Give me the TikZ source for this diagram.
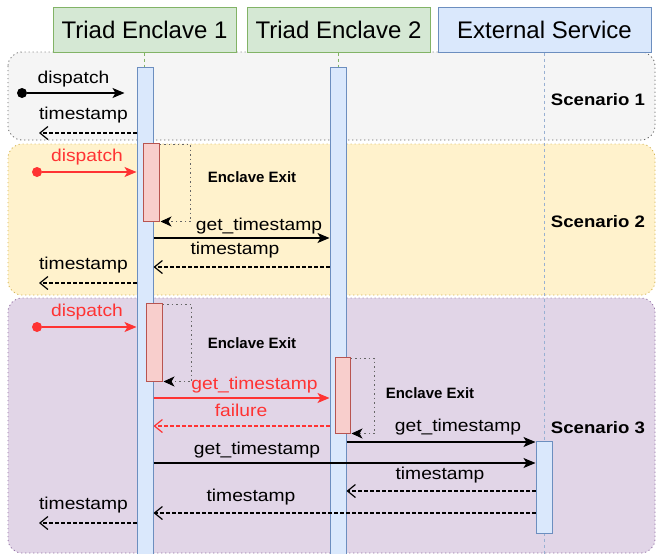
\documentclass[tikz,border=0pt]{standalone}
\usepackage{fontspec}
\setmainfont{Liberation Sans}
\newfontfamily\widefont[FakeStretch=1.12]{Liberation Sans}
\usetikzlibrary{arrows.meta}
\definecolor{greenfill}{HTML}{D5E8D4}
\definecolor{greendraw}{HTML}{82B366}
\definecolor{bluefill}{HTML}{DAE8FC}
\definecolor{bluedraw}{HTML}{6C8EBF}
\definecolor{redfill}{HTML}{F8CECC}
\definecolor{reddraw}{HTML}{B85450}
\definecolor{redtext}{HTML}{FF3333}
\definecolor{grayfill}{HTML}{F5F5F5}
\definecolor{graydraw}{HTML}{666666}
\definecolor{yellowfill}{HTML}{FFF2CC}
\definecolor{yellowdraw}{HTML}{D6B656}
\definecolor{purplefill}{HTML}{E1D5E7}
\definecolor{purpledraw}{HTML}{9673A6}

\begin{document}
\begin{tikzpicture}[x=1pt,y=-1pt,
  scen/.style={rounded corners=14pt,line width=0.8pt,dash pattern=on 1.2pt off 2.8pt},
  head/.style={draw=greendraw,fill=greenfill,line width=1pt,minimum width=183pt,
    minimum height=45pt,inner sep=0pt,font=\fontsize{24}{27}\selectfont},
  bar/.style={draw=bluedraw,fill=bluefill,line width=1pt,minimum width=16pt,inner sep=0pt},
  exitbox/.style={draw=reddraw,fill=redfill,line width=1pt,minimum width=16pt,inner sep=0pt},
  life/.style={dash pattern=on 3pt off 3pt,line width=1pt},
  dot/.style={circle,fill,inner sep=0pt,minimum size=10pt},
  lbl/.style={font=\widefont\fontsize{17.2}{20}\selectfont,inner sep=0pt},
  exitlbl/.style={font=\fontsize{15}{18}\selectfont\bfseries,inner sep=0pt},
  scenlbl/.style={font=\widefont\fontsize{16.6}{20}\selectfont\bfseries,inner sep=0pt},
  call/.style={line width=1.2pt,-{Stealth[length=12pt,width=10pt,inset=3pt]}},
  ret/.style={line width=1.2pt,dash pattern=on 3.5pt off 2.5pt,
    -{Straight Barb[length=8pt,width=13pt,line width=1.2pt]}},
  selfloop/.style={draw=graydraw,line width=1pt,dash pattern=on 1.5pt off 3pt,
    -{Stealth[length=11pt,width=10pt,inset=3pt,black]}}]
\clip (0,0) rectangle (656,554);

% scenario backgrounds
\draw[scen,draw=graydraw,fill=grayfill] (8,52) rectangle (655,140);
\draw[scen,draw=yellowdraw,fill=yellowfill] (8,144) rectangle (655,295);
\draw[scen,draw=purpledraw,fill=purplefill] (8,298) rectangle (655,553);

% participants
\node[head] (te1) at (144.5,29.5) {Triad Enclave 1};
\node[head] (te2) at (338.5,29.5) {Triad Enclave 2};
\node[head,draw=bluedraw,fill=bluefill,minimum width=213pt] (es) at (544.5,29.5) {External Service};

% lifelines
\draw[life,draw=greendraw] (te1.south) -- (144.5,67);
\draw[life,draw=greendraw] (te2.south) -- (338.5,67);
\draw[life,draw=bluedraw!70] (es.south) -- (544.5,554);
\node[bar,minimum height=493pt] (bar1) at (145,313.5) {};
\node[bar,minimum height=493pt] (bar2) at (338,313.5) {};
\node[bar,minimum height=92pt] (bar3) at (544,487) {};

% enclave exits
\node[exitbox,minimum height=78pt] (x1) at (151,182) {};
\node[exitbox,minimum height=78pt] (x2) at (154,342) {};
\node[exitbox,minimum width=15pt,minimum height=76pt] (x3) at (342.5,395) {};
\draw[selfloop] ([yshift=-2pt]x1.north east) -| ([xshift=31pt]x1.south east) -- ([xshift=1pt]x1.south east);
\draw[selfloop] ([yshift=-2pt]x2.north east) -| ([xshift=29pt]x2.south east) -- ([xshift=1pt]x2.south east);
\draw[selfloop] ([yshift=-2pt]x3.north east) -| ([xshift=24pt]x3.south east) -- ([xshift=1pt]x3.south east);
\node[exitlbl] (xl1) at (252,177) {Enclave Exit};
\node[exitlbl] (xl2) at (252,343) {Enclave Exit};
\node[exitlbl] (xl3) at (430,393) {Enclave Exit};

% scenario 1
\node[dot] (d1) at (22,93) {};
\coordinate (o1) at (39,133);
\draw[call] (d1) -- ([xshift=-12pt]bar1.west |- d1);
\draw[ret] (bar1.west |- o1) -- (o1);
\node[lbl] (l1) at (73.5,79) {dispatch};
\node[lbl] (l2) at (83.5,115) {timestamp};
\node[scenlbl] (s1) at (598,100) {Scenario 1};

% scenario 2
\node[dot,redtext] (d2) at (37,172) {};
\coordinate (o2) at (39,283);
\draw[call,redtext] (d2) -- (bar1.west |- d2);
\draw[call] (bar1.east |- 0,238) -- (bar2.west |- 0,238);
\draw[ret] (bar2.west |- 0,267) -- (bar1.east |- 0,267);
\draw[ret] (bar1.west |- o2) -- (o2);
\node[lbl,redtext] (l3) at (87,157) {dispatch};
\node[lbl] (l4) at (259,226) {get\_timestamp};
\node[lbl] (l5) at (235,250) {timestamp};
\node[lbl] (l6) at (83.5,265) {timestamp};
\node[scenlbl] (s2) at (598,222) {Scenario 2};

% scenario 3
\node[dot,redtext] (d3) at (37,327) {};
\coordinate (o3) at (39,523);
\draw[call,redtext] (d3) -- (bar1.west |- d3);
\draw[call,redtext] (bar1.east |- 0,398) -- (bar2.west |- 0,398);
\draw[ret,redtext] (bar2.west |- 0,426) -- (bar1.east |- 0,426);
\draw[call] (bar2.east |- 0,442) -- (bar3.west |- 0,442);
\draw[call] (bar1.east |- 0,463) -- (bar3.west |- 0,463);
\draw[ret] (bar3.west |- 0,491) -- (bar2.east |- 0,491);
\draw[ret] (bar3.west |- 0,513) -- (bar1.east |- 0,513);
\draw[ret] (bar1.west |- o3) -- (o3);
\node[lbl,redtext] (l7) at (87,312) {dispatch};
\node[lbl,redtext] (l8) at (254.5,385) {get\_timestamp};
\node[lbl,redtext] (l9) at (241,410) {failure};
\node[lbl] (l10) at (458,427) {get\_timestamp};
\node[lbl] (l11) at (257,450) {get\_timestamp};
\node[lbl] (l12) at (440,475) {timestamp};
\node[lbl] (l13) at (251,497) {timestamp};
\node[lbl] (l14) at (83.5,505) {timestamp};
\node[scenlbl] (s3) at (598,428) {Scenario 3};
\end{tikzpicture}
\end{document}
